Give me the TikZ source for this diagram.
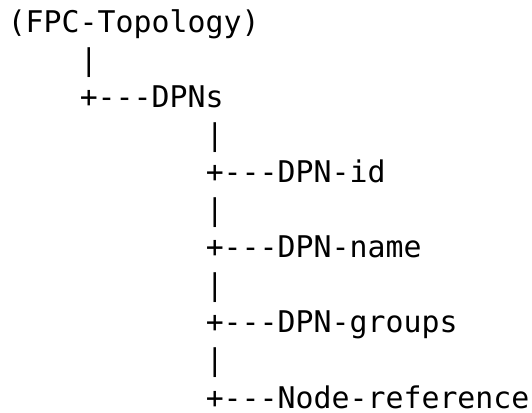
\documentclass[tikz,border=0pt]{standalone}
\usepackage{fontspec}
\setmonofont{DejaVu Sans Mono}
\begin{document}
\begin{tikzpicture}[x=13.5pt,y=-28.125pt,
  ascii/.style={anchor=base west,inner sep=0pt,font=\ttfamily\fontsize{22.4}{26}\selectfont}]
\useasboundingbox (-0.4167,-0.88) rectangle (29.139,10.133);
% top level
\node[ascii] (topo) at (0,0) {(FPC-Topology)};
\node[ascii] (bar0) at (4,1) {|};
\node[ascii] (dpns) at (4,2) {+---DPNs};
% children of DPNs
\node[ascii] (bar1) at (11,3) {|};
\node[ascii] (dpnid) at (11,4) {+---DPN-id};
\node[ascii] (bar2) at (11,5) {|};
\node[ascii] (dpnname) at (11,6) {+---DPN-name};
\node[ascii] (bar3) at (11,7) {|};
\node[ascii] (dpngroups) at (11,8) {+---DPN-groups};
\node[ascii] (bar4) at (11,9) {|};
\node[ascii] (noderef) at (11,10) {+---Node-reference};
\end{tikzpicture}
\end{document}
